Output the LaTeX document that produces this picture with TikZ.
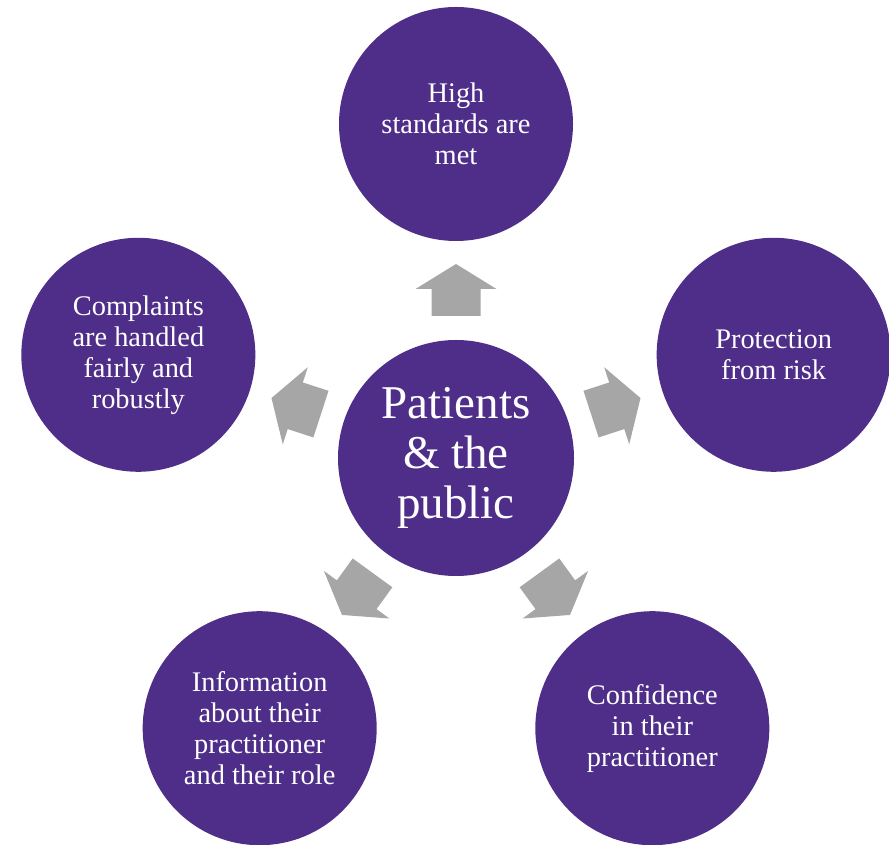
\documentclass[tikz,border=0pt]{standalone}
\usepackage{fontspec}
\setmainfont{Liberation Serif}
\definecolor{ppurple}{RGB}{78,46,137}
\definecolor{agray}{RGB}{166,166,166}
\begin{document}
\begin{tikzpicture}[x=1pt,y=1pt,
  bubble/.style={circle,fill=ppurple,text=white,minimum size=234pt,inner sep=0pt,align=center,font=\fontsize{28.4}{31}\selectfont},
  hub/.style={bubble,minimum size=236pt,font=\fontsize{47}{50}\selectfont},
  blockarrow/.style={fill=agray}]
\useasboundingbox (0,0) rectangle (889,844);
\coordinate (o) at (456,386);
\node[hub] (c) at (o) {Patients\\\& the\\public};
\node[bubble] (top) at ([shift={(90:334)}]o) {High\\standards are\\met};
\node[bubble] (right) at ([shift={(18:334)}]o) {Protection\\from risk};
\node[bubble] (bright) at ([shift={(-54:334)}]o) {Confidence\\in their\\practitioner};
\node[bubble] (bleft) at ([shift={(-126:334)}]o) {Information\\about their\\practitioner\\and their role};
\node[bubble] (left) at ([shift={(162:334)}]o) {Complaints\\are handled\\fairly and\\robustly};
\foreach \a in {90,18,-54,-126,162}{
  \fill[blockarrow, shift={(o)}, rotate=\a]
    (142,-24.5) -- (169,-24.5) -- (169,-40.5) -- (194,0) -- (169,40.5) -- (169,24.5) -- (142,24.5) -- cycle;
}
\end{tikzpicture}
\end{document}
